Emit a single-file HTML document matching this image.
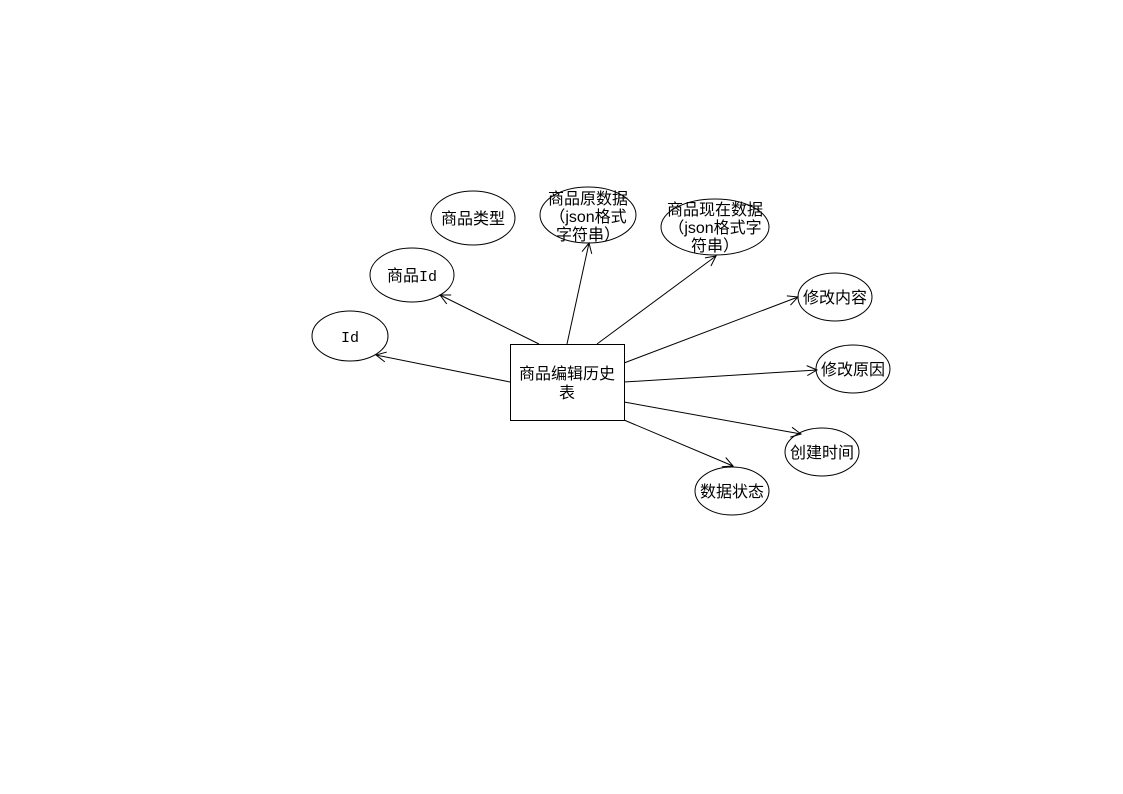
<!DOCTYPE html>
<html><head><meta charset="utf-8"><style>
html,body{margin:0;padding:0;background:#fff;}
svg{display:block;}
text{font-family:"Liberation Sans","Noto Sans CJK SC",sans-serif;font-size:16px;fill:#000;}
</style></head><body>
<svg width="1123" height="794" viewBox="0 0 1123 794" xmlns="http://www.w3.org/2000/svg">
<defs>
<marker id="a" viewBox="0 0 12 12" refX="11" refY="6" markerWidth="12" markerHeight="12" markerUnits="userSpaceOnUse" orient="auto">
<path d="M1,1 L11,6 L1,11" fill="none" stroke="#000" stroke-width="1"/>
</marker>
</defs>
<g stroke="#000" stroke-width="1" fill="none">
<line x1="510" y1="382" x2="376" y2="355" marker-end="url(#a)"/>
<line x1="539" y1="344" x2="440" y2="295" marker-end="url(#a)"/>
<line x1="567" y1="344" x2="589" y2="243" marker-end="url(#a)"/>
<line x1="597" y1="344" x2="716" y2="256" marker-end="url(#a)"/>
<line x1="624" y1="363" x2="798" y2="297" marker-end="url(#a)"/>
<line x1="624" y1="382" x2="817" y2="370" marker-end="url(#a)"/>
<line x1="624" y1="402" x2="801" y2="434" marker-end="url(#a)"/>
<line x1="624" y1="420" x2="733" y2="466" marker-end="url(#a)"/>
<rect x="510.5" y="344.5" width="114" height="76" fill="#fff"/>
<ellipse cx="350" cy="336" rx="38" ry="25"/>
<ellipse cx="412" cy="275" rx="42" ry="27"/>
<ellipse cx="473" cy="218" rx="42" ry="27"/>
<ellipse cx="588" cy="215" rx="48" ry="28"/>
<ellipse cx="715" cy="227" rx="54" ry="28"/>
<ellipse cx="835" cy="297" rx="37" ry="24"/>
<ellipse cx="853" cy="369" rx="37" ry="24"/>
<ellipse cx="822" cy="452" rx="37" ry="24"/>
<ellipse cx="732" cy="491" rx="37" ry="24"/>
</g>
<g text-anchor="middle">
<text x="350" y="342" style="font-family:'Liberation Mono',monospace;font-size:15px">Id</text>
<text x="412" y="281">商品<tspan style="font-family:'Liberation Mono',monospace;font-size:15px">Id</tspan></text>
<text x="473" y="224">商品类型</text>
<text x="588" y="204">商品原数据</text>
<text x="588" y="222">（json格式</text>
<text x="588" y="240">字符串）</text>
<text x="715" y="215">商品现在数据</text>
<text x="715" y="233">（json格式字</text>
<text x="715" y="251">符串）</text>
<text x="835" y="303">修改内容</text>
<text x="853" y="375">修改原因</text>
<text x="822" y="458">创建时间</text>
<text x="732" y="497">数据状态</text>
<text x="567" y="379">商品编辑历史</text>
<text x="567" y="398">表</text>
</g>
</svg>
</body></html>
